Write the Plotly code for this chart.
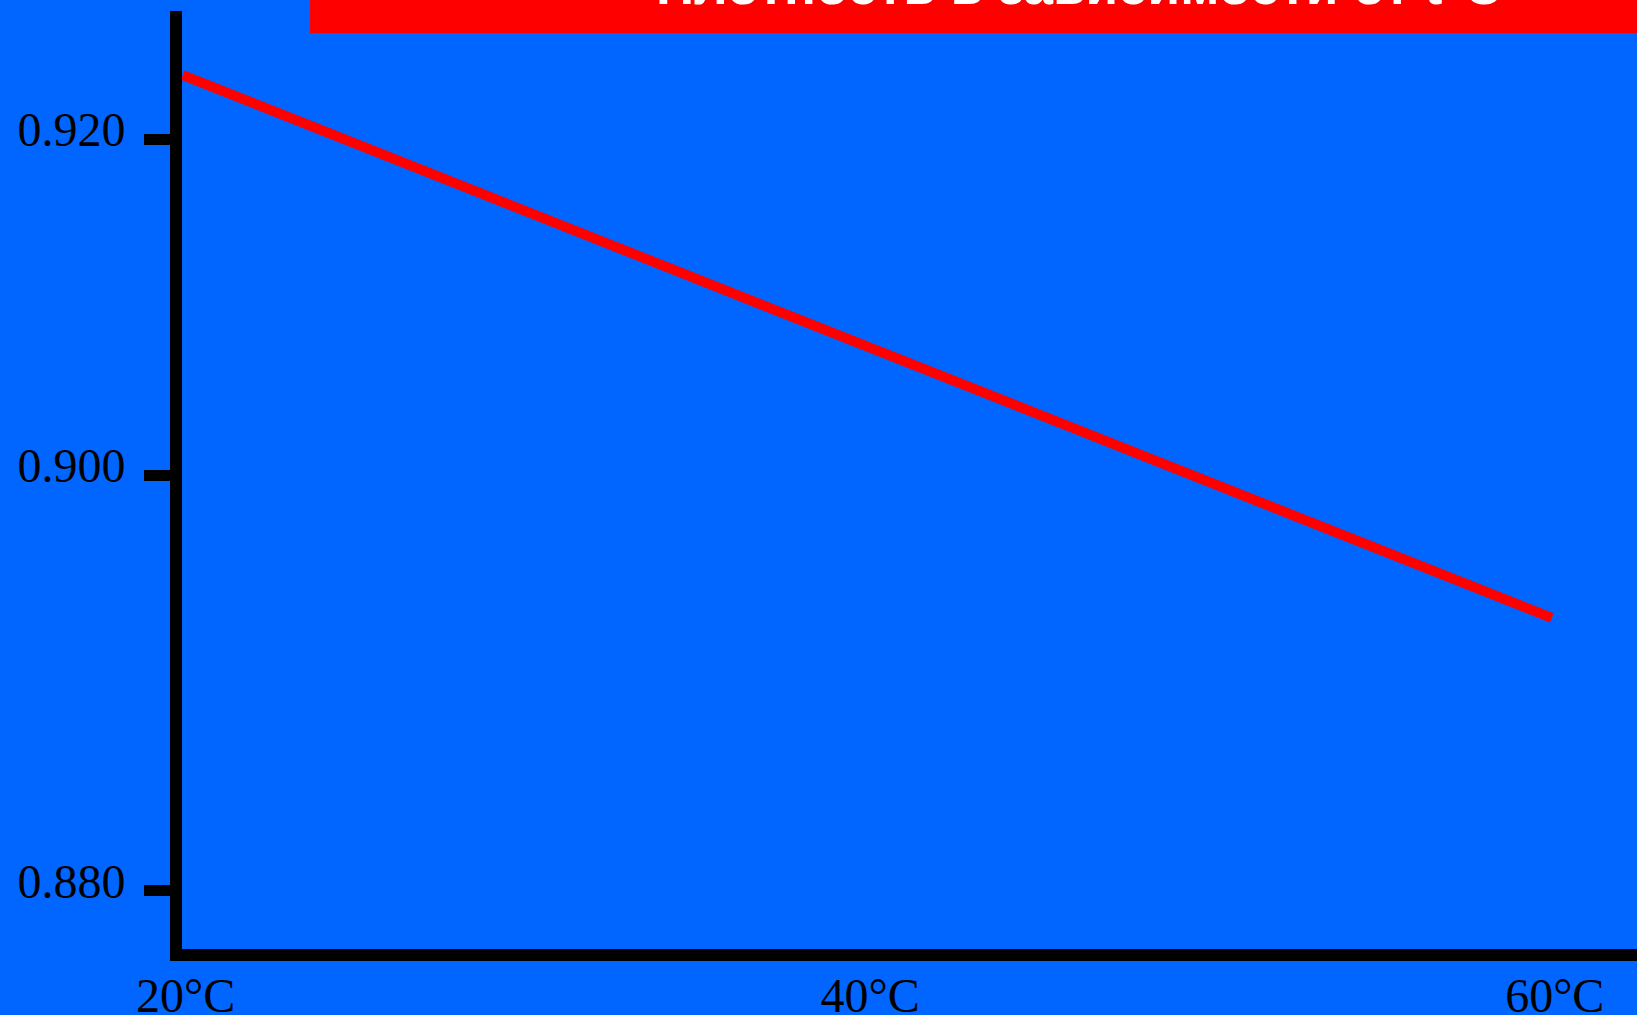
import plotly.graph_objects as go

# Data
temperatures = [20, 40, 60]
density = [0.9238, 0.9076, 0.8915]

x_tick_values = [20, 40, 60]
x_tick_labels = ["20°C", "40°C", "60°C"]
y_tick_values = [0.920, 0.900, 0.87524]
y_tick_labels = ["0.920", "0.900", "0.880"]

title_text = "Плотность в зависимости от t°C"

BLUE = "#0066FF"
RED = "#FF0000"

fig = go.Figure()
fig.add_trace(go.Scatter(
    x=temperatures, y=density, mode="lines",
    line=dict(color=RED, width=10),
    hoverinfo="skip", showlegend=False,
))

fig.update_layout(
    template="none",
    width=1637, height=1015,
    margin=dict(l=182, r=0, t=11, b=66, pad=0),
    paper_bgcolor=BLUE, plot_bgcolor=BLUE,
    showlegend=False,
    font=dict(family="Liberation Serif", size=48, color="black"),
    xaxis=dict(
        range=[19.98, 62.49], showgrid=False, zeroline=False, automargin=False,
        showline=True, linecolor="black", linewidth=12,
        ticks="", tickvals=x_tick_values, ticktext=x_tick_labels,
        tickfont=dict(family="Liberation Serif", size=48, color="black"),
        ticklabelstandoff=-7, ticklabelshift=3,
        layer="below traces",
    ),
    yaxis=dict(
        range=[0.871786, 0.927619], showgrid=False, zeroline=False, automargin=False,
        showline=True, linecolor="black", linewidth=12,
        ticks="outside", ticklen=26, tickwidth=11, tickcolor="black",
        tickvals=y_tick_values, ticktext=y_tick_labels,
        tickfont=dict(family="Liberation Serif", size=48, color="black"),
        ticklabelstandoff=9, ticklabelshift=-10,
        layer="below traces",
    ),
    shapes=[dict(
        type="rect", xref="paper", yref="paper",
        x0=0.088, x1=1.0, y0=0.97655, y1=1.0118,
        fillcolor=RED, line=dict(width=0), layer="above",
    )],
    annotations=[dict(
        text="<b>" + title_text + "</b>", xref="paper", yref="paper",
        x=(1079 - 182) / 1455, y=1.0, xanchor="center", yanchor="bottom",
        yshift=-6, showarrow=False,
        font=dict(family="Liberation Sans", size=53, color="white"),
    )],
)

fig.write_html(
    "out.html",
    config={"displayModeBar": False},
    post_script="document.body.style.margin='0px';document.body.style.overflow='hidden';",
)
